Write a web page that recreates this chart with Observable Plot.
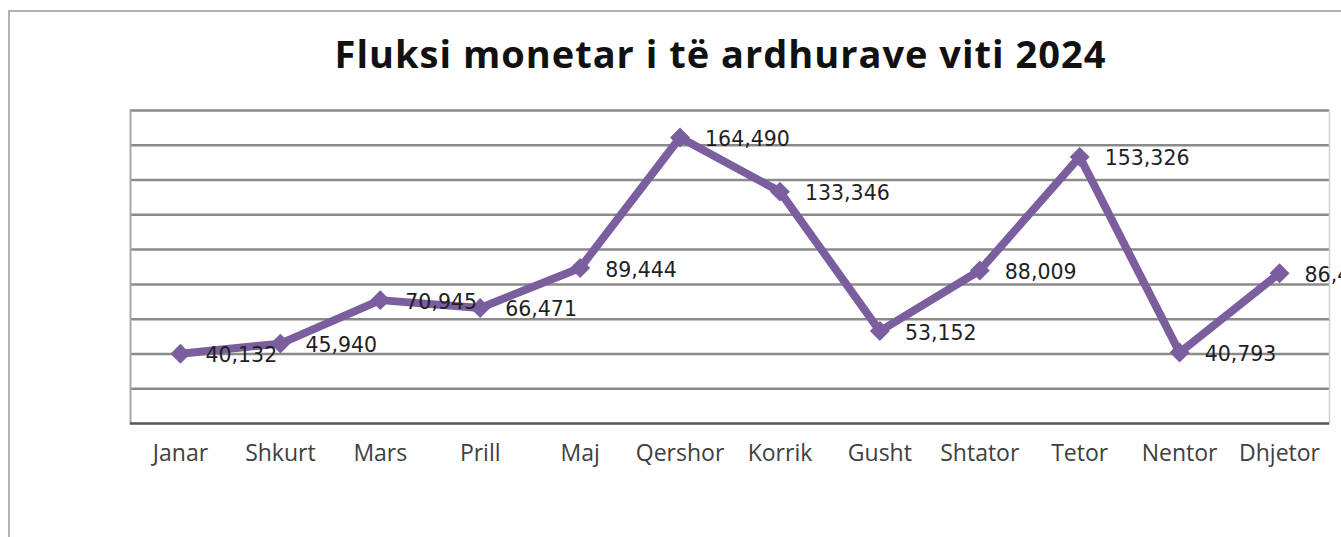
<!DOCTYPE html>
<html>
<head>
<meta charset="utf-8">
<script src="https://cdn.jsdelivr.net/npm/d3@7"></script>
<script src="https://cdn.jsdelivr.net/npm/@observablehq/plot@0.6"></script>
<style>
  html, body { margin: 0; padding: 0; background: #fff; overflow: hidden; }
  #chart { position: relative; width: 1341px; height: 537px; overflow: hidden; }
  #frame { position: absolute; left: 8px; top: 10px; width: 1400px; height: 600px;
           border-left: 2px solid #b3b3b3; border-top: 2px solid #b3b3b3; }
  #title { position: absolute; left: 0; top: 34px; width: 1441px; text-align: center;
           font-family: "Open Sans", sans-serif; font-weight: 700; font-size: 38px;
           letter-spacing: 1px; line-height: 38px; color: #111; white-space: nowrap; }
  #plot { position: absolute; left: 0; top: 0; }
</style>
</head>
<body>
<div id="chart">
  <div id="plot"></div>
  <div id="frame"></div>
  <div id="title">Fluksi monetar i të ardhurave viti 2024</div>
</div>
<script>
const months = ["Janar", "Shkurt", "Mars", "Prill", "Maj", "Qershor", "Korrik", "Gusht", "Shtator", "Tetor", "Nentor", "Dhjetor"];
const values = [40132, 45940, 70945, 66471, 89444, 164490, 133346, 53152, 88009, 153326, 40793, 86450];
const gridTicks = [0, 20000, 40000, 60000, 80000, 100000, 120000, 140000, 160000, 180000];

const data = months.map((m, i) => ({month: m, value: values[i]}));
const fmt = d3.format(",");
const purple = "#7a5e9e";

const chart = Plot.plot({
  width: 1341,
  height: 537,
  marginTop: 110,
  marginBottom: 114,
  marginLeft: 130,
  marginRight: 12,
  style: {background: "transparent", overflow: "visible"},
  x: {type: "point", domain: months, padding: 0.5, round: false, label: null},
  y: {domain: [0, 180000], axis: null},
  marks: [
    Plot.ruleY(gridTicks.filter(d => d > 0), {stroke: "#8a8a8a", strokeWidth: 2.5}),
    Plot.frame({anchor: "left", stroke: "#a8a8a8", strokeWidth: 2}),
    Plot.frame({anchor: "right", stroke: "#d0d0d0", strokeWidth: 1.5}),
    Plot.ruleY([0], {stroke: "#555", strokeWidth: 2.5}),
    Plot.axisX({tickSize: 0, tickPadding: 21, fontSize: 23, fontFamily: "Open Sans", fill: "#404040", label: null}),
    Plot.line(data, {x: "month", y: "value", stroke: purple, strokeWidth: 8, strokeLinejoin: "miter"}),
    Plot.dot(data, {x: "month", y: "value", symbol: "diamond2", r: 9, fill: purple, stroke: "none"}),
    Plot.text(data, {x: "month", y: "value", text: d => fmt(d.value), textAnchor: "start", lineAnchor: "middle",
      dx: 25, dy: 2, fontSize: 20.5, fontFamily: "DejaVu Sans", fill: "#1f1f1f"})
  ]
});
document.getElementById("plot").appendChild(chart);
</script>
</body>
</html>
